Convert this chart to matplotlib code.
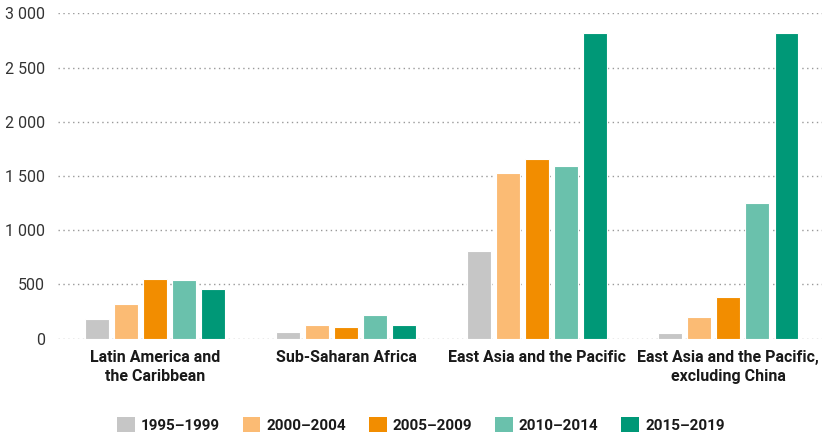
import matplotlib.pyplot as plt
from matplotlib.ticker import FuncFormatter
from matplotlib.patches import Patch

plt.rcParams['font.family'] = ['Roboto', 'DejaVu Sans']

regions = ["Latin America and\nthe Caribbean", "Sub-Saharan Africa",
           "East Asia and the Pacific", "East Asia and the Pacific,\nexcluding China"]
periods = ["1995–1999", "2000–2004", "2005–2009", "2010–2014", "2015–2019"]
colors = ["#c6c6c6", "#fbbb74", "#f28d00", "#6ac1ac", "#009877"]

# values per period, one entry per region
v1995 = [184, 65, 812, 55]
v2000 = [317, 129, 1532, 200]
v2005 = [550, 105, 1655, 385]
v2010 = [544, 221, 1594, 1252]
v2015 = [461, 129, 2815, 2815]
series = [v1995, v2000, v2005, v2010, v2015]

fig = plt.figure(figsize=(8.22, 4.37), dpi=100)
ax = fig.add_axes([0.0706, 0.225, 0.9294, 0.7445])

step = 0.152
width = 0.125
x = range(len(regions))
for k, vals in enumerate(series):
    pos = [i + (k - 2) * step for i in x]
    ax.bar(pos, vals, width=width, color=colors[k], edgecolor="white",
           linewidth=0.8, zorder=3)

ax.set_xlim(-0.508, 3.49)
ax.set_ylim(0, 3000)
ax.set_yticks(range(0, 3001, 500))
ax.yaxis.set_major_formatter(FuncFormatter(lambda v, p: f"{v:,.0f}".replace(",", " ")))
ax.set_xticks(list(x))
ax.set_xticklabels(regions, fontsize=11.5, fontweight="bold", color="#1a1a1a",
                   linespacing=1.35)
ax.tick_params(axis="x", length=0, pad=8)
ax.tick_params(axis="y", length=0, pad=9.5, labelsize=11.5, labelcolor="#333333")
ax.grid(axis="y", linestyle=(0, (1, 2.5)), color="#999999", linewidth=1, zorder=0)
ax.set_axisbelow(True)
for s in ax.spines.values():
    s.set_visible(False)

handles = [Patch(facecolor=c, edgecolor="none") for c in colors]
fig.legend(handles, periods, loc="center", bbox_to_anchor=(0.512, 0.027), ncol=5,
           frameon=False, prop={"size": 11, "weight": "bold"},
           handlelength=1.15, handleheight=1.15, handletextpad=0.4,
           columnspacing=1.5, labelcolor="#1a1a1a")

fig.savefig("out.png", dpi=100)
